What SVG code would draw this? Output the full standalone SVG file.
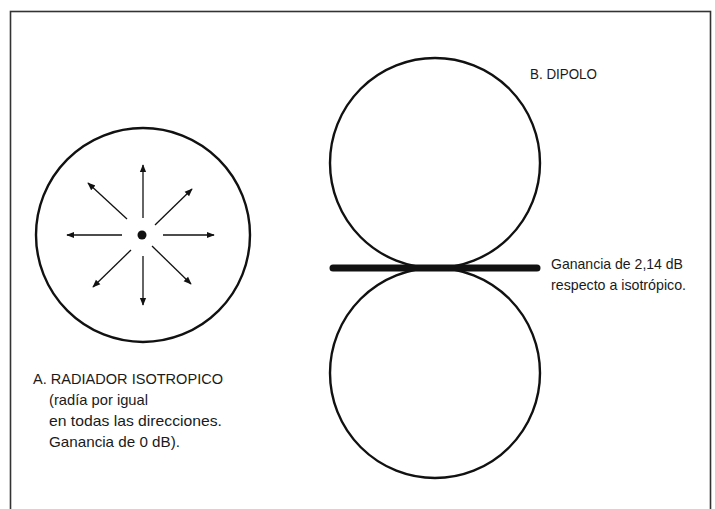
<svg xmlns="http://www.w3.org/2000/svg" width="715" height="509" viewBox="0 0 715 509">
<defs>
<marker id="ah" viewBox="0 0 10 10" refX="9" refY="5" markerWidth="8" markerHeight="8" markerUnits="userSpaceOnUse" orient="auto">
<path d="M0,1 L10,5 L0,9 z" fill="#111"/>
</marker>
</defs>
<style>
.t{font-family:"Liberation Sans","Arial",sans-serif;font-size:15px;fill:#1a1a1a}
.c{fill:none;stroke:#111;stroke-width:2.4}
.a{stroke:#111;stroke-width:1.3;marker-end:url(#ah)}
</style>
<rect x="0" y="0" width="715" height="509" fill="#fff"/>
<rect x="10.5" y="11.5" width="700" height="520" fill="none" stroke="#333" stroke-width="1.6"/>
<g id="isotropic">
<circle class="c" cx="143" cy="235" r="107"/>
<circle cx="142" cy="235" r="4.5" fill="#111"/>
<g id="connectors">
<line class="a" x1="143" y1="218" x2="143" y2="165"/>
<line class="a" x1="143" y1="256" x2="143" y2="305"/>
<line class="a" x1="122" y1="235" x2="67" y2="235"/>
<line class="a" x1="163" y1="235" x2="214" y2="235"/>
<line class="a" x1="127" y1="219" x2="88" y2="183"/>
<line class="a" x1="155" y1="225" x2="192" y2="189"/>
<line class="a" x1="131" y1="250" x2="93" y2="287"/>
<line class="a" x1="152" y1="246" x2="191" y2="284"/>
</g>
</g>
<g id="labelA">
<text class="t" x="33" y="384" textLength="190" lengthAdjust="spacingAndGlyphs">A.  RADIADOR ISOTROPICO</text>
<text class="t" x="49" y="405" textLength="99" lengthAdjust="spacingAndGlyphs">(radía por igual</text>
<text class="t" x="49" y="426" textLength="173" lengthAdjust="spacingAndGlyphs">en todas las direcciones.</text>
<text class="t" x="49" y="447" textLength="131" lengthAdjust="spacingAndGlyphs">Ganancia de 0 dB).</text>
</g>
<g id="dipole">
<circle class="c" cx="435" cy="163" r="105"/>
<circle class="c" cx="435" cy="373" r="105"/>
<line x1="333" y1="268" x2="537" y2="268" stroke="#111" stroke-width="7" stroke-linecap="round"/>
</g>
<g id="labelB">
<text class="t" x="530" y="79" textLength="67" lengthAdjust="spacingAndGlyphs">B.  DIPOLO</text>
</g>
<g id="gain">
<text class="t" x="551" y="269" textLength="132" lengthAdjust="spacingAndGlyphs">Ganancia de 2,14 dB</text>
<text class="t" x="551" y="290" textLength="135" lengthAdjust="spacingAndGlyphs">respecto a isotrópico.</text>
</g>
</svg>
